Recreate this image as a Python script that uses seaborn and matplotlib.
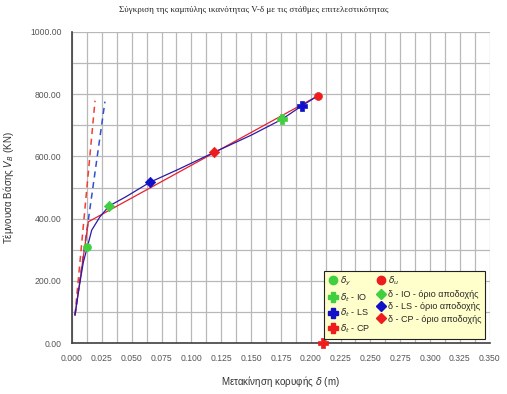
import numpy as np
import pandas as pd
import matplotlib
matplotlib.use("Agg")
import matplotlib.pyplot as plt
import seaborn as sns
from matplotlib.lines import Line2D

# ==========================================
# Data
# ==========================================
# capacity curve V-delta
cap_d = [0.0025, 0.006, 0.0095, 0.0128, 0.0165, 0.0234, 0.0312, 0.045, 0.0653,
         0.09, 0.119, 0.15, 0.1758, 0.1923, 0.2057]
cap_v = [90, 180, 260, 308, 363, 406, 441, 470, 517, 560, 613, 668, 719, 762, 794]

# bilinear idealisation
bil_d = [0.0025, 0.0137, 0.2057]
bil_v = [90, 390, 794]

# initial stiffness (dashed)
red_dash_d = [0.0025, 0.0193]
red_dash_v = [90, 779]
blue_dash_d = [0.0025, 0.0276]
blue_dash_v = [90, 776]

# points
dy = (0.0128, 308)
du = (0.2057, 794)
dt_io = (0.1758, 719)
dt_ls = (0.1923, 762)
dt_cp = (0.2104, 0)
lim_io = (0.0312, 441)
lim_ls = (0.0653, 517)
lim_cp = (0.119, 613)

GREEN = "#3fcf3f"
BLUE = "#1010c8"
RED = "#ee1c1c"

# ==========================================
# Figure
# ==========================================
sns.set_style("white")
plt.rcParams["font.family"] = ["Liberation Sans", "DejaVu Sans"]

fig = plt.figure(figsize=(5.07, 3.94), dpi=100)
ax = fig.add_axes([0.142, 0.129, 0.824, 0.790])

sns.lineplot(x=red_dash_d, y=red_dash_v, ax=ax, color="#f04030", lw=1.1,
             linestyle=(0, (4, 3)), sort=False)
sns.lineplot(x=blue_dash_d, y=blue_dash_v, ax=ax, color="#3050d0", lw=1.1,
             linestyle=(0, (4, 3)), sort=False)
sns.lineplot(x=bil_d, y=bil_v, ax=ax, color="#e8202a", lw=0.9, sort=False)
sns.lineplot(x=cap_d, y=cap_v, ax=ax, color="#2a1aa8", lw=0.9, sort=False)

def pt(p, marker, color, size=36):
    sns.scatterplot(x=[p[0]], y=[p[1]], ax=ax, marker=marker, color=color,
                    s=size, edgecolor=color, linewidth=0.5, zorder=5, clip_on=False)

pt(dy, "o", GREEN, 32)
pt(du, "o", RED, 32)
pt(dt_io, "P", GREEN, 45)
pt(dt_ls, "P", BLUE, 45)
pt(dt_cp, "P", RED, 45)
pt(lim_io, "D", GREEN, 28)
pt(lim_ls, "D", BLUE, 28)
pt(lim_cp, "D", RED, 28)

ax.set_xlim(0, 0.35)
ax.set_ylim(0, 1000)
ax.set_xticks(np.arange(0, 0.3501, 0.025))
ax.set_xticks(np.arange(0, 0.3501, 0.0125), minor=True)
ax.set_yticks(np.arange(0, 1001, 200))
ax.set_yticks(np.arange(0, 1001, 100), minor=True)
ax.xaxis.set_major_formatter(matplotlib.ticker.FormatStrFormatter("%.3f"))
ax.yaxis.set_major_formatter(matplotlib.ticker.FormatStrFormatter("%.2f"))

ax.grid(True, which="both", color="#b8b8b8", lw=0.9)
ax.set_axisbelow(True)
for s in ["top", "right"]:
    ax.spines[s].set_visible(False)
for s in ["left", "bottom"]:
    ax.spines[s].set_color("#404040")
    ax.spines[s].set_linewidth(1.2)
ax.tick_params(which="major", direction="inout", length=9, width=1.2,
               color="#404040", labelsize=6.2, labelcolor="#555555", pad=3)
ax.tick_params(which="minor", direction="inout", length=5, width=1.0,
               color="#404040")

ax.set_xlabel("Μετακίνηση κορυφής $\\delta$ (m)", fontsize=7, color="#333333",
              labelpad=8)
ax.set_ylabel("Τέμνουσα Βάσης $V_B$ (KN)", fontsize=7, color="#333333",
              labelpad=10)
fig.suptitle("Σύγκριση της καμπύλης ικανότητας V-δ με τις στάθμες επιτελεστικότητας",
             fontsize=6.5, family=["Liberation Serif", "DejaVu Serif"],
             y=0.985)

def h(marker, color, ms):
    return Line2D([], [], marker=marker, color=color, linestyle="none",
                  markersize=ms, markeredgecolor=color)

handles = [h("o", GREEN, 6), h("P", GREEN, 7), h("P", BLUE, 7), h("P", RED, 7),
           h("o", RED, 6), h("D", GREEN, 5.5), h("D", BLUE, 5.5), h("D", RED, 5.5)]
labels = ["$\\delta_y$", "$\\delta_t$ - IO", "$\\delta_t$ - LS", "$\\delta_t$ - CP",
          "$\\delta_u$", "δ - IO - όριο αποδοχής", "δ - LS - όριο αποδοχής",
          "δ - CP - όριο αποδοχής"]
leg = ax.legend(handles, labels, ncol=2, loc="lower right",
                bbox_to_anchor=(1.0, 0.0), fontsize=6.5, frameon=True,
                fancybox=False, facecolor="#ffffcc", edgecolor="#222222",
                handletextpad=0.2, columnspacing=0.6, labelspacing=0.35,
                borderpad=0.4, handlelength=1.2)
leg.get_frame().set_linewidth(0.8)
leg.get_frame().set_alpha(1)

fig.savefig("out.png", dpi=100)
